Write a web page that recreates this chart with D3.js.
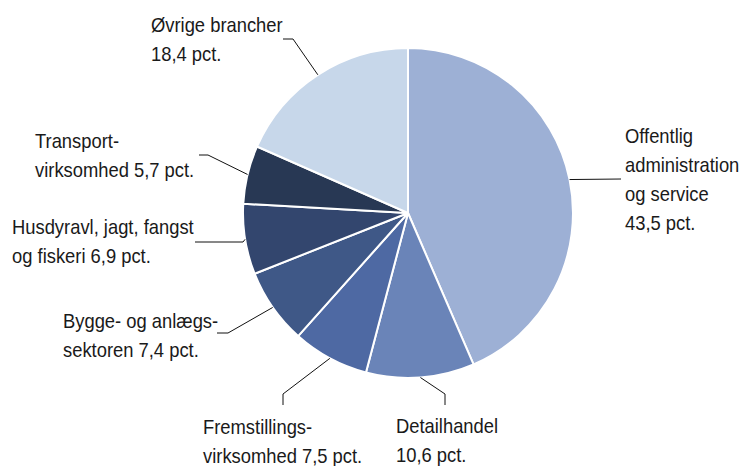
<!DOCTYPE html>
<html>
<head>
<meta charset="utf-8">
<script src="https://cdn.jsdelivr.net/npm/d3@7"></script>
<style>
  html, body { margin: 0; padding: 0; background: #fff; }
  svg text { font-family: "Liberation Sans", Arial, sans-serif; }
</style>
</head>
<body>
<svg id="chart" width="740" height="466"></svg>
<script>
// === DATA ===
const categories = [
    "Offentlig administration og service",
    "Detailhandel",
    "Fremstillingsvirksomhed",
    "Bygge- og anlægssektoren",
    "Husdyravl, jagt, fangst og fiskeri",
    "Transportvirksomhed",
    "Øvrige brancher"
];
const values = [43.5, 10.6, 7.5, 7.4, 6.9, 5.7, 18.4];
const colors = ["#9db0d5", "#6a84b8", "#4e69a3", "#3f5887", "#33466e", "#283854", "#c7d7ea"];
// label lines as shown in the picture
const labelLines = [
    ["Offentlig", "administration", "og service", "43,5 pct."],
    ["Detailhandel", "10,6 pct."],
    ["Fremstillings-", "virksomhed 7,5 pct."],
    ["Bygge- og anlægs-", "sektoren 7,4 pct."],
    ["Husdyravl, jagt, fangst", "og fiskeri 6,9 pct."],
    ["Transport-", "virksomhed 5,7 pct."],
    ["Øvrige brancher", "18,4 pct."]
];

// === LAYOUT ===
const cx = 408, cy = 213, radius = 165;
const lineHeight = 29;
const squeeze = 0.875; // the original face is a condensed one
// text anchor (x, first baseline) and leader elbow / end per label
const labelLayout = [
    { x: 625, y: 143, elbow: null,       end: [621, 179] },
    { x: 396, y: 433, elbow: [445, 394], end: [445, 405] },
    { x: 203, y: 434, elbow: [283, 394], end: [283, 405] },
    { x: 63,  y: 328, elbow: [228, 333], end: [217, 333] },
    { x: 12,  y: 234, elbow: [243, 242], end: [195, 242] },
    { x: 35,  y: 148, elbow: [208, 155], end: [199, 155] },
    { x: 151, y: 32,  elbow: [293, 39],  end: [283, 39] }
];

const svg = d3.select("#chart");
const g = svg.append("g").attr("transform", "translate(" + cx + "," + cy + ")");

const pie = d3.pie().sort(null).value(d => d);
const arcs = pie(values);
const arc = d3.arc().innerRadius(0).outerRadius(radius);

g.selectAll("path.slice")
    .data(arcs)
    .enter()
    .append("path")
    .attr("class", "slice")
    .attr("d", arc)
    .attr("fill", (d, i) => colors[i])
    .attr("stroke", "#fff")
    .attr("stroke-width", 2)
    .attr("stroke-linejoin", "round");

// leader lines: from slice edge (mid angle) to the label
arcs.forEach((d, i) => {
    const mid = (d.startAngle + d.endAngle) / 2;
    const ex = cx + radius * Math.sin(mid);
    const ey = cy - radius * Math.cos(mid);
    const L = labelLayout[i];
    const pts = [[ex, ey]];
    if (L.elbow) pts.push(L.elbow);
    pts.push(L.end);
    svg.append("path")
        .attr("d", d3.line()(pts))
        .attr("fill", "none")
        .attr("stroke", "#111")
        .attr("stroke-width", 1);
});

// labels
labelLines.forEach((lines, i) => {
    const L = labelLayout[i];
    const t = svg.append("text")
        .attr("transform", "translate(" + L.x + "," + L.y + ") scale(" + squeeze + ",1)")
        .attr("font-size", 21)
        .attr("fill", "#1a1a1a");
    lines.forEach((s, j) => {
        t.append("tspan")
            .attr("x", 0)
            .attr("y", j * lineHeight)
            .text(s);
    });
});
</script>
</body>
</html>
